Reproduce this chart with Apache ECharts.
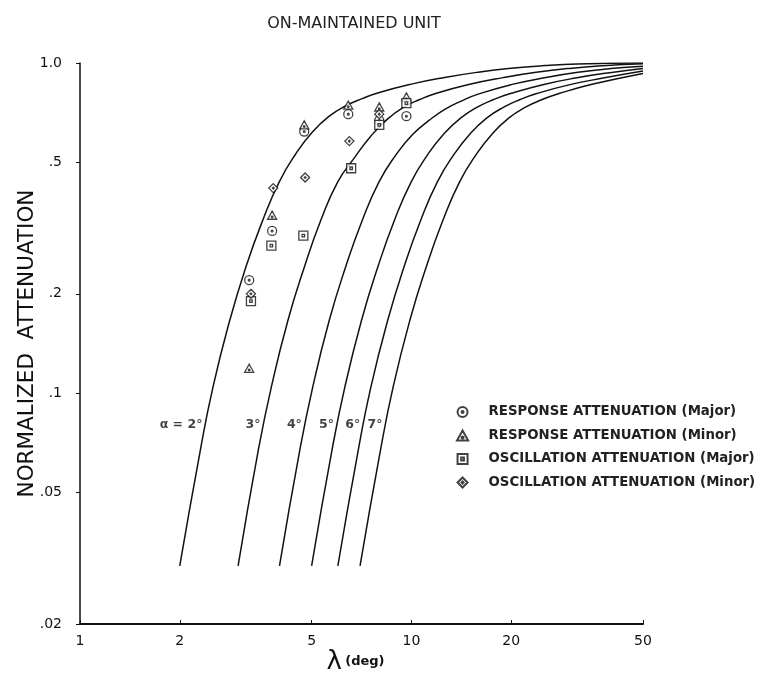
<!DOCTYPE html>
<html><head><meta charset="utf-8">
<script src="https://cdn.jsdelivr.net/npm/echarts@6/dist/echarts.min.js"></script>
<style>html,body{margin:0;padding:0;background:#fff}#c{width:769px;height:690px}</style>
</head><body><div id="c"></div>
<script>
// ---- data ----
const xTicks = [1, 2, 5, 10, 20, 50];
const xTickLabels = ['1', '2', '5', '10', '20', '50'];
const yTicks = [0.02, 0.05, 0.1, 0.2, 0.5, 1.0];
const yTickLabels = ['.02', '.05', '.1', '.2', '.5', '1.0'];

const alphaNames = ['α = 2°', '3°', '4°', '5°', '6°', '7°'];
const curve2x = [2, 2.3, 2.52, 2.83, 3.17, 3.56, 3.99, 4.48, 5.02, 5.64, 6.32, 7.10, 7.96, 10.0, 12.6, 15.9, 20, 25.2, 31.7, 50];
const curve2y = [0.030, 0.066, 0.1045, 0.166, 0.242, 0.334, 0.436, 0.531, 0.617, 0.689, 0.741, 0.78, 0.813, 0.863, 0.904, 0.938, 0.964, 0.982, 0.993, 1.0];
const curve3x = [3, 3.44, 3.78, 4.24, 4.76, 5.33, 5.99, 6.72, 7.54, 8.45, 9.49, 10.6, 11.9, 15.0, 18.9, 23.8, 30, 37.8, 50];
const curve3y = [0.030, 0.066, 0.1045, 0.166, 0.242, 0.334, 0.436, 0.515, 0.60, 0.675, 0.735, 0.775, 0.810, 0.862, 0.903, 0.937, 0.963, 0.981, 0.994];
const curve4x = [4, 4.59, 5.04, 5.65, 6.34, 7.11, 7.98, 8.96, 10.05, 11.3, 12.65, 14.2, 15.9, 20.0, 25.2, 31.8, 40, 50];
const curve4y = [0.030, 0.066, 0.1045, 0.166, 0.242, 0.334, 0.436, 0.525, 0.605, 0.67, 0.725, 0.768, 0.805, 0.86, 0.902, 0.937, 0.962, 0.978];
const curve5x = [5, 5.74, 6.3, 7.07, 7.93, 8.89, 9.98, 11.2, 12.56, 14.1, 15.8, 17.7, 19.9, 25.1, 31.6, 39.7, 50];
const curve5y = [0.030, 0.066, 0.1045, 0.166, 0.242, 0.334, 0.436, 0.528, 0.612, 0.682, 0.735, 0.775, 0.808, 0.861, 0.902, 0.935, 0.962];
const curve6x = [6, 6.89, 7.55, 8.48, 9.51, 10.67, 11.97, 13.43, 15.07, 16.9, 19.0, 21.3, 23.9, 30.1, 37.9, 50];
const curve6y = [0.030, 0.066, 0.1045, 0.166, 0.242, 0.334, 0.436, 0.528, 0.612, 0.682, 0.735, 0.775, 0.808, 0.860, 0.900, 0.945];
const curve7x = [7, 8.04, 8.81, 9.89, 11.1, 12.45, 13.97, 15.68, 17.58, 19.7, 22.1, 24.8, 27.9, 35.1, 50];
const curve7y = [0.030, 0.066, 0.1045, 0.166, 0.242, 0.334, 0.436, 0.528, 0.612, 0.682, 0.735, 0.775, 0.808, 0.862, 0.93];
// label anchor points (where each α label touches its curve)
const labelX = [2.39, 3.58, 4.77, 5.96, 7.16, 8.35];
const labelY = 0.08;

const respMajorX = [3.24, 3.8, 4.75, 6.45, 8.0, 9.66];
const respMajorY = [0.22, 0.31, 0.62, 0.70, 0.67, 0.69];
const respMinorX = [3.24, 3.8, 4.75, 6.45, 8.0, 9.66];
const respMinorY = [0.119, 0.346, 0.65, 0.746, 0.736, 0.789];
const oscMajorX = [3.28, 3.78, 4.72, 6.58, 8.0, 9.66];
const oscMajorY = [0.19, 0.28, 0.30, 0.48, 0.65, 0.756];
const oscMinorX = [3.28, 3.83, 4.78, 6.5, 8.0];
const oscMinorY = [0.20, 0.418, 0.45, 0.58, 0.70];

const legendNames = ['RESPONSE ATTENUATION (Major)', 'RESPONSE ATTENUATION (Minor)',
  'OSCILLATION ATTENUATION (Major)', 'OSCILLATION ATTENUATION (Minor)'];

// ---- build ----
const zip = (a, b) => a.map((v, i) => [v, b[i]]);
const curves = [[curve2x, curve2y], [curve3x, curve3y], [curve4x, curve4y],
  [curve5x, curve5y], [curve6x, curve6y], [curve7x, curve7y]];

const symCircle = 'path://M0,-10A10,10 0 1,1 0,10A10,10 0 1,1 0,-10ZM0,-2A2,2 0 1,1 0,2A2,2 0 1,1 0,-2Z';
const symTri = 'path://M0,-11L10,7L-10,7ZM0,0A1.8,1.8 0 1,1 0,3.6A1.8,1.8 0 1,1 0,0Z';
const symSquare = 'path://M-9,-9L9,-9L9,9L-9,9ZM-2.5,-2.5L2.5,-2.5L2.5,2.5L-2.5,2.5Z';
const symDiamond = 'path://M0,-11L11,0L0,11L-11,0ZM0,-2.2L2.2,0L0,2.2L-2.2,0Z';
const syms = [symCircle, symTri, symSquare, symDiamond];
const pts = [zip(respMajorX, respMajorY), zip(respMinorX, respMinorY),
  zip(oscMajorX, oscMajorY), zip(oscMinorX, oscMinorY)];

const series = [];
curves.forEach((c, i) => {
  series.push({
    type: 'line', name: 'curve' + i, data: zip(c[0], c[1]), smooth: 0.5,
    showSymbol: false, silent: true,
    lineStyle: { color: '#111', width: 1.5 }, z: 2
  });
});
series.push({
  type: 'scatter', name: 'alphaLabels', symbolSize: 0, silent: true,
  data: labelX.map((x, i) => ({ value: [x, labelY], label: { formatter: alphaNames[i] } })),
  label: { show: true, position: 'left', distance: 3, color: '#111',
    fontFamily: 'DejaVu Sans', fontSize: 12.5, fontWeight: 'bold' }
});
pts.forEach((p, i) => {
  series.push({
    type: 'scatter', name: legendNames[i], data: p, symbol: syms[i], symbolSize: 9,
    symbolKeepAspect: true,
    itemStyle: { color: '#fff', borderColor: '#111', borderWidth: 1.3 }, z: 5
  });
});

const chart = echarts.init(document.getElementById('c'), null, { renderer: 'canvas' });
chart.setOption({
  animation: false,
  backgroundColor: '#fff',
  title: {
    text: 'ON-MAINTAINED UNIT', left: 349, top: 11, textAlign: 'center',
    textStyle: { fontFamily: 'DejaVu Sans', fontSize: 16, fontWeight: 'normal', color: '#222' }
  },
  legend: {
    orient: 'vertical', left: 451, top: 400, data: legendNames,
    itemWidth: 42, itemHeight: 10, itemGap: 9.5,
    textStyle: { fontFamily: 'DejaVu Sans', fontSize: 13.3, fontWeight: 'bold', color: '#222', lineHeight: 14 }
  },
  grid: { left: 80, right: 126, top: 63, bottom: 66, containLabel: false },
  xAxis: {
    type: 'log', logBase: 10, min: 1, max: 50,
    name: '{l|λ} {d|(deg)}', nameLocation: 'middle', nameGap: 25, nameMoveOverlap: false,
    nameTextStyle: { padding: [0, 12, 0, 0], rich: {
      l: { fontFamily: 'DejaVu Sans', fontSize: 26, color: '#111' },
      d: { fontFamily: 'DejaVu Sans', fontSize: 13, color: '#111', fontWeight: 'bold' } } },
    axisLine: { show: true, lineStyle: { color: '#111', width: 2 } },
    axisTick: { show: true, inside: true, length: 4, customValues: xTicks, lineStyle: { color: '#111' } },
    axisLabel: { customValues: xTicks, margin: 10, color: '#111', fontFamily: 'DejaVu Sans', fontSize: 14,
      formatter: v => { const i = xTicks.findIndex(t => Math.abs(t - v) < 1e-6); return i >= 0 ? xTickLabels[i] : ''; } },
    splitLine: { show: false }, minorTick: { show: false }
  },
  yAxis: {
    type: 'log', logBase: 10, min: 0.02, max: 1.0,
    name: 'NORMALIZED  ATTENUATION', nameLocation: 'middle', nameGap: 42, nameMoveOverlap: false,
    nameTextStyle: { fontFamily: 'DejaVu Sans', fontSize: 21.5, color: '#111' },
    axisLine: { show: true, lineStyle: { color: '#111', width: 1.5 } },
    axisTick: { show: true, length: 4, customValues: yTicks, lineStyle: { color: '#111' } },
    axisLabel: { customValues: yTicks, margin: 18, color: '#111', fontFamily: 'DejaVu Sans', fontSize: 14,
      formatter: v => { const i = yTicks.findIndex(t => Math.abs(t - v) < 1e-9); return i >= 0 ? yTickLabels[i] : ''; } },
    splitLine: { show: false }, minorTick: { show: false }
  },
  series: series
});
</script></body></html>
